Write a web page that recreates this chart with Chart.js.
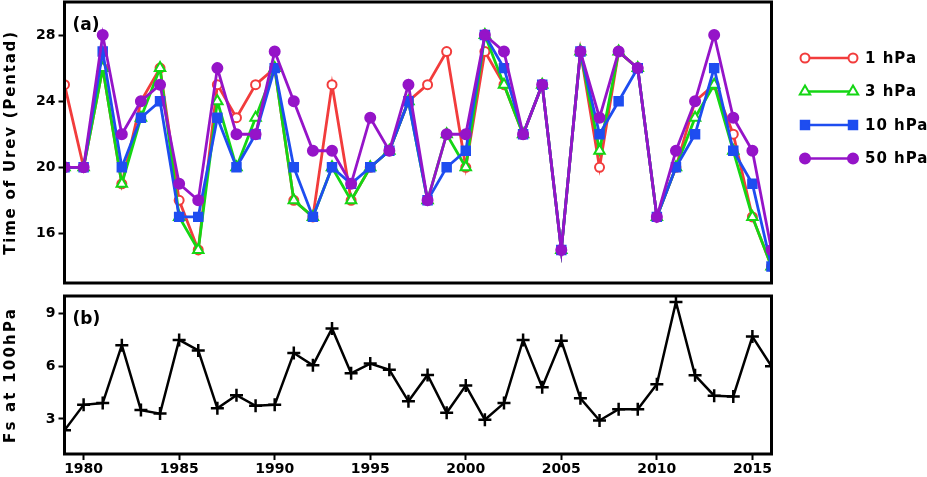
<!DOCTYPE html>
<html><head><meta charset="utf-8">
<script src="https://cdn.jsdelivr.net/npm/chart.js@4.4.0/dist/chart.umd.min.js"></script>
<style>
html,body{margin:0;padding:0;background:#fff;width:927px;height:477px;overflow:hidden}
#top{position:absolute;left:0;top:0;width:927px;height:290px}
#bot{position:absolute;left:0;top:290px;width:927px;height:187px}
</style></head><body>
<div id="top"><canvas id="c1"></canvas></div>
<div id="bot"><canvas id="c2"></canvas></div>
<script>
// ---------- data ----------
const years = [1979,1980,1981,1982,1983,1984,1985,1986,1987,1988,1989,1990,1991,1992,1993,1994,1995,1996,1997,1998,
               1999,2000,2001,2002,2003,2004,2005,2006,2007,2008,2009,2010,2011,2012,2013,2014,2015,2016];
const seriesNames = ["1 hPa", "3 hPa", "10 hPa", "50 hPa"];
const urev1hPa  = [25,20,26,19,24,26,18,15,25,23,25,26,18,17,25,18,20,21,24,25,27,20,27,25,22,25,15,27,20,27,26,17,20,24,25,22,17,14];
const urev3hPa  = [20,20,26,19,23,26,17,15,24,20,23,26,18,17,20,18,20,21,24,18,22,20,28,25,22,25,15,27,21,27,26,17,20,23,25,21,17,14];
const urev10hPa = [20,20,27,20,23,24,17,17,23,20,22,26,20,17,20,19,20,21,24,18,20,21,28,26,22,25,15,27,22,24,26,17,20,22,26,21,19,14];
const urev50hPa = [20,20,28,22,24,25,19,18,26,22,22,27,24,21,21,19,23,21,25,18,22,22,28,27,22,25,15,27,23,27,26,17,21,24,28,23,21,15];
const fs100hPa  = [2.35,3.8,3.9,7.2,3.5,3.3,7.5,6.9,3.6,4.35,3.75,3.8,6.75,6.05,8.15,5.6,6.15,5.8,4.0,5.5,
                   3.35,4.9,2.95,3.9,7.5,4.8,7.45,4.17,2.91,3.55,3.55,4.97,9.66,5.48,4.32,4.28,7.69,6.0];
const xTickLabels = [1980,1985,1990,1995,2000,2005,2010,2015];
const yTicksTop = [16,20,24,28];
const yTicksBot = [3,6,9];
const topTitle = "Time of Urev (Pentad)";
const botTitle = "Fs at 100hPa";
const panelA = "(a)";
const panelB = "(b)";

// ---------- styles ----------
const FONT = "'DejaVu Sans', sans-serif";
const styles = [
  {color:'#f23c3c', pointStyle:'circle',   radius:4.5, fill:false, order:4},
  {color:'#14d614', pointStyle:'triangle', radius:6,   fill:false, order:3},
  {color:'#1e4df0', pointStyle:'rect',     radius:6,   fill:true,  order:2},
  {color:'#9514c8', pointStyle:'circle',   radius:5,   fill:true,  order:1}
];
const seriesVals = [urev1hPa, urev3hPa, urev10hPa, urev50hPa];

function drawMarker(ctx, st, x, y){
  ctx.save();
  ctx.beginPath();
  const r = st.radius;
  if (st.pointStyle === 'circle') {
    ctx.arc(x, y, r, 0, Math.PI*2);
  } else if (st.pointStyle === 'triangle') {
    let a = 0;
    ctx.moveTo(x + Math.sin(a)*r, y - Math.cos(a)*r);
    a += 2*Math.PI/3; ctx.lineTo(x + Math.sin(a)*r, y - Math.cos(a)*r);
    a += 2*Math.PI/3; ctx.lineTo(x + Math.sin(a)*r, y - Math.cos(a)*r);
    ctx.closePath();
  } else if (st.pointStyle === 'rect') {
    const s = Math.SQRT1_2 * r;
    ctx.rect(x - s, y - s, 2*s, 2*s);
  }
  ctx.fillStyle = st.fill ? st.color : '#fff';
  ctx.fill();
  ctx.lineWidth = 2;
  ctx.strokeStyle = st.color;
  ctx.stroke();
  ctx.restore();
}

function zeroPad(s){ s.paddingTop = 0; s.paddingBottom = 0; s.paddingLeft = 0; s.paddingRight = 0; }

const framePlugin = {
  id:'frame',
  afterDatasetsDraw(chart, args, opts){
    const {ctx, chartArea:a} = chart;
    ctx.save();
    ctx.lineWidth = 3;
    ctx.strokeStyle = '#000';
    ctx.strokeRect(a.left, a.top, a.right - a.left, a.bottom - a.top);
    ctx.fillStyle = '#000';
    ctx.font = "bold 17px " + FONT;
    ctx.textBaseline = 'middle';
    ctx.textAlign = 'left';
    ctx.fillText(opts.panel, a.left + 8, a.top + opts.panelDy);
    // rotated axis title
    ctx.translate(opts.titleX, (a.top + a.bottom)/2);
    ctx.rotate(-Math.PI/2);
    ctx.font = "bold 15px " + FONT;
    ctx.letterSpacing = opts.spacing;
    ctx.textAlign = 'center';
    ctx.fillText(opts.title, 0, 0);
    ctx.restore();
  }
};

const legendPlugin = {
  id:'customLegend',
  afterDraw(chart){
    const ctx = chart.ctx;
    const ys = [58, 91.5, 125, 158.5];
    seriesNames.forEach((name, i) => {
      const st = styles[i];
      const y = ys[i];
      ctx.save();
      ctx.strokeStyle = st.color;
      ctx.lineWidth = 2.5;
      ctx.beginPath(); ctx.moveTo(805, y); ctx.lineTo(853, y); ctx.stroke();
      ctx.restore();
      drawMarker(ctx, st, 805, y);
      drawMarker(ctx, st, 853, y);
      ctx.save();
      ctx.fillStyle = '#000';
      ctx.font = "bold 15px " + FONT;
      ctx.letterSpacing = '1px';
      ctx.textBaseline = 'middle';
      ctx.textAlign = 'left';
      ctx.fillText(name, 865, y + 1);
      ctx.restore();
    });
  }
};

const tickFont = {family: FONT, size: 14, weight: 'bold'};

// ---------- top chart ----------
new Chart(document.getElementById('c1'), {
  type: 'line',
  data: {
    datasets: seriesNames.map((name, i) => ({
      label: name,
      data: years.map((yr, j) => ({x: yr, y: seriesVals[i][j]})),
      borderColor: styles[i].color,
      backgroundColor: styles[i].fill ? styles[i].color : '#ffffff',
      pointBorderColor: styles[i].color,
      pointBackgroundColor: styles[i].fill ? styles[i].color : '#ffffff',
      pointStyle: styles[i].pointStyle,
      pointRadius: styles[i].radius,
      pointBorderWidth: 2,
      borderWidth: 2.8,
      tension: 0,
      order: styles[i].order
    }))
  },
  options: {
    responsive: true, maintainAspectRatio: false, animation: false,
    layout: {autoPadding: false, padding: {left: 0, right: 155.5, top: 2, bottom: 7}},
    plugins: {
      legend: {display: false}, tooltip: {enabled: false},
      frame: {panel: panelA, panelDy: 24, title: topTitle, titleX: 11, spacing: '1.8px'}
    },
    scales: {
      x: {type: 'linear', min: 1979, max: 2016, display: false},
      y: {
        min: 13, max: 30,
        afterFit(s){ s.width = 64.5; zeroPad(s); },
        afterBuildTicks(s){ s.ticks = yTicksTop.map(v => ({value: v})); },
        ticks: {font: tickFont, color: '#000', padding: 3, callback: v => String(v)},
        grid: {drawOnChartArea: false, drawTicks: true, tickLength: 6, tickWidth: 2, tickColor: '#000'},
        border: {display: false}
      }
    }
  },
  plugins: [framePlugin, legendPlugin]
});

// ---------- bottom chart ----------
new Chart(document.getElementById('c2'), {
  type: 'line',
  data: {
    datasets: [{
      label: botTitle,
      data: years.map((yr, j) => ({x: yr, y: fs100hPa[j]})),
      borderColor: '#000',
      pointBorderColor: '#000',
      pointStyle: 'cross',
      pointRadius: 6.5,
      pointBorderWidth: 2.5,
      borderWidth: 2.5,
      tension: 0
    }]
  },
  options: {
    responsive: true, maintainAspectRatio: false, animation: false,
    layout: {autoPadding: false, padding: {left: 0, right: 155.5, top: 6, bottom: 0}},
    plugins: {
      legend: {display: false}, tooltip: {enabled: false},
      frame: {panel: panelB, panelDy: 24, title: botTitle, titleX: 11, spacing: '2.2px'}
    },
    scales: {
      x: {
        type: 'linear', min: 1979, max: 2016,
        afterFit(s){ s.height = 23; zeroPad(s); },
        afterBuildTicks(s){ s.ticks = xTickLabels.map(v => ({value: v})); },
        ticks: {font: tickFont, color: '#000', padding: 1, maxRotation: 0, autoSkip: false, callback: v => String(v)},
        grid: {drawOnChartArea: false, drawTicks: true, tickLength: 6, tickWidth: 2, tickColor: '#000'},
        border: {display: false}
      },
      y: {
        min: 1, max: 10,
        afterFit(s){ s.width = 64.5; zeroPad(s); },
        afterBuildTicks(s){ s.ticks = yTicksBot.map(v => ({value: v})); },
        ticks: {font: tickFont, color: '#000', padding: 3, callback: v => String(v)},
        grid: {drawOnChartArea: false, drawTicks: true, tickLength: 6, tickWidth: 2, tickColor: '#000'},
        border: {display: false}
      }
    }
  },
  plugins: [framePlugin]
});
</script>
</body></html>
